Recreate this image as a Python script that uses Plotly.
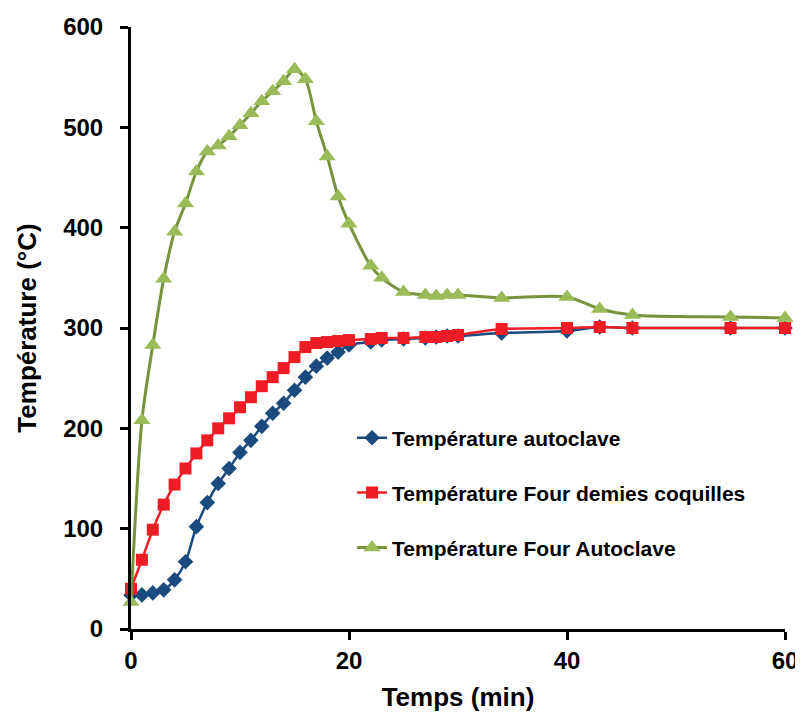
import plotly.graph_objects as go

# Température autoclave
t_auto = [0, 1, 2, 3, 4, 5, 6, 7, 8, 9, 10, 11, 12, 13, 14, 15, 16, 17, 18, 19, 20,
          22, 23, 25, 27, 28, 29, 30, 34, 40, 43, 46, 55, 60]
y_auto = [34, 34, 36, 39, 49, 67, 102, 126, 145, 160, 176, 188, 202, 215, 225, 238, 251, 262, 270, 276, 283,
          286, 288, 289, 290, 291, 292, 292, 295, 297, 301, 300, 300, 300]

# Température Four demies coquilles
t_four = [0, 1, 2, 3, 4, 5, 6, 7, 8, 9, 10, 11, 12, 13, 14, 15, 16, 17, 18, 19, 20,
          22, 23, 25, 27, 28, 29, 30, 34, 40, 43, 46, 55, 60]
y_four = [40, 69, 99, 124, 144, 160, 175, 188, 200, 210, 221, 231, 242, 251, 260, 271, 281, 285, 286, 287, 288,
          289, 290, 290, 291, 291, 292, 293, 299, 300, 301, 300, 300, 300]

# Température Four Autoclave
t_fa = [0, 1, 2, 3, 4, 5, 6, 7, 8, 9, 10, 11, 12, 13, 14, 15, 16, 17, 18, 19, 20,
        22, 23, 25, 27, 28, 29, 30, 34, 40, 43, 46, 55, 60]
y_fa = [27, 208, 283, 349, 396, 424, 456, 476, 482, 491, 502, 514, 526, 536, 546, 558, 548, 506, 471, 431, 404,
        362, 350, 336, 333, 332, 333, 333, 330, 331, 319, 313, 311, 310]

names = ["Température autoclave", "Température Four demies coquilles", "Température Four Autoclave"]

x_ticks = [0, 20, 40, 60]
y_ticks = [0, 100, 200, 300, 400, 500, 600]

FONT = "Liberation Sans, Arial, sans-serif"

fig = go.Figure()
fig.add_trace(go.Scatter(
    x=t_auto, y=y_auto, name=names[0], mode="lines+markers",
    line=dict(color="#1B4A7E", width=2.5, shape="spline", smoothing=0.8),
    marker=dict(symbol="diamond", size=12, color="#1B4A7E"),
    cliponaxis=False, legend="legend", showlegend=True))
fig.add_trace(go.Scatter(
    x=t_four, y=y_four, name=names[1], mode="lines+markers",
    line=dict(color="#EE1D25", width=2.5, shape="spline", smoothing=0.8),
    marker=dict(symbol="square", size=12, color="#EE1D25"),
    cliponaxis=False, legend="legend2", showlegend=True))
fig.add_trace(go.Scatter(
    x=t_fa, y=y_fa, name=names[2], mode="lines+markers",
    line=dict(color="#77933C", width=3, shape="spline", smoothing=0.8),
    marker=dict(symbol="triangle-up", size=15, color="#9BBB59"),
    cliponaxis=False, legend="legend3", showlegend=True))

leg_common = dict(x=0.338, xanchor="left", yanchor="middle", bgcolor="rgba(0,0,0,0)",
                  font=dict(family=FONT, size=21, color="black", weight="bold"), itemwidth=30)

fig.update_layout(
    width=795, height=707,
    margin=dict(l=123, r=18, t=19, b=86),
    paper_bgcolor="white", plot_bgcolor="white",
    showlegend=True,
    font=dict(family=FONT, color="black"),
    legend=dict(y=0.317, **leg_common),
    legend2=dict(y=0.226, **leg_common),
    legend3=dict(y=0.135, **leg_common),
    xaxis=dict(
        range=[0, 60], tickvals=x_ticks, ticktext=[f"<b>{v}</b>" for v in x_ticks],
        showline=True, linecolor="black", linewidth=3,
        ticks="outside", ticklen=8, tickwidth=2.5, tickcolor="black",
        showgrid=False, zeroline=False, automargin=False,
        tickfont=dict(family=FONT, size=24, color="black"),
        title=dict(text="<b>Temps (min)</b>", font=dict(family=FONT, size=26, color="black"), standoff=16),
    ),
    yaxis=dict(
        range=[0, 600], tickvals=y_ticks, ticktext=[f"<b>{v}</b>" for v in y_ticks],
        showline=True, linecolor="black", linewidth=3,
        ticks="outside", ticklen=8, tickwidth=2.5, tickcolor="black",
        showgrid=False, zeroline=False, automargin=False,
        tickfont=dict(family=FONT, size=24, color="black"),
        ticklabelstandoff=12,
        title=dict(text="<b>Température (°C)</b>", font=dict(family=FONT, size=26, color="black"), standoff=20),
    ),
)

fig.write_html("out.html")
